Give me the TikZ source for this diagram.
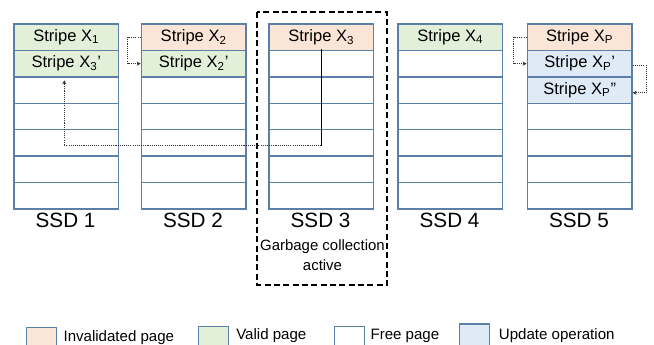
\documentclass[tikz,border=0pt]{standalone}
\usepackage{fontspec}
\setmainfont{Liberation Sans}
\usetikzlibrary{arrows.meta,calc}
\definecolor{cellborder}{HTML}{5B7FA6}
\definecolor{invalidfill}{HTML}{FBE5D6}
\definecolor{validfill}{HTML}{E2F0D9}
\definecolor{updatefill}{HTML}{DEEBF7}
\definecolor{linkgray}{HTML}{333333}
\begin{document}
\begin{tikzpicture}[x=0.75pt,y=-0.75pt,
  page/.style={draw=cellborder, line width=1.1pt, fill=white,
    minimum width=78.4pt, minimum height=19.82pt, inner sep=0pt,
    anchor=north west, font=\fontsize{12.4}{14}\selectfont},
  invalid/.style={page, fill=invalidfill},
  valid/.style={page, fill=validfill},
  update/.style={page, fill=updatefill},
  ssdlabel/.style={font=\fontsize{15.5}{18}\selectfont},
  legbox/.style={draw=cellborder, line width=1.1pt, anchor=north west,
    minimum width=22.5pt, minimum height=19pt, inner sep=0pt},
  legtext/.style={anchor=base west, inner sep=0pt, font=\fontsize{11.3}{13}\selectfont},
  dotlink/.style={draw=linkgray, line width=0.8pt,
    dash pattern=on 0.8pt off 0.8pt,
    -{Stealth[length=3pt,width=3pt]}},
  solidlink/.style={draw=black, line width=1pt}]
\useasboundingbox (0,0) rectangle (654,345);

% pages holding stripe data
\node[valid]   (c11) at (13.3,23.3)  {Stripe X\textsubscript{1}};
\node[valid]   (c12) at (13.3,49.73) {Stripe X\textsubscript{3}'};
\node[invalid] (c21) at (140.7,23.3)  {Stripe X\textsubscript{2}};
\node[valid]   (c22) at (140.7,49.73) {Stripe X\textsubscript{2}'};
\node[invalid] (c31) at (268.3,23.3)  {Stripe X\textsubscript{3}};
\node[valid]   (c41) at (397.3,23.3)  {Stripe X\textsubscript{4}};
\node[invalid] (c51) at (526.7,23.3)  {Stripe X\textsubscript{P}};
\node[update]  (c52) at (526.7,49.73) {Stripe X\textsubscript{P}'};
\node[update]  (c53) at (526.7,76.16) {Stripe X\textsubscript{P}''};

% free pages
\foreach \c/\x/\first in {1/13.3/3, 2/140.7/3, 3/268.3/2, 4/397.3/2, 5/526.7/4}{
  \foreach \r in {\first,...,7}{
    \node[page] (c\c\r) at (\x,{23.3+(\r-1)*26.43}) {};
  }
}

% drive labels
\foreach \c/\x in {1/13.3, 2/140.7, 3/268.3, 4/397.3, 5/526.7}{
  \node[ssdlabel] (ssd\c) at ({\x+52.25},220.5) {SSD \c};
}

% drive under garbage collection
\draw[black, line width=1.3pt, dash pattern=on 4.5pt off 2.5pt]
  (257.3,12.3) rectangle (387.3,285);
\node[align=center, font=\fontsize{11.2}{15}\selectfont] (gc) at (322.5,255)
  {Garbage collection\\active};

% page moves
\draw[dotlink] (c21.west) -- ++(-13,0) |- (c22.west);
\draw[dotlink] (c51.west) -- ++(-13,0) |- (c52.west);
\draw[dotlink] ([yshift=-1.5pt]c52.east) -- ++(14,0) |- ([yshift=-2pt]c53.east);
\draw[solidlink] ([yshift=1.5pt]c31.south) -- ($(c35.center)+(0,3)$) coordinate (turn);
\draw[dotlink] (turn) -| ([xshift=-1.5pt,yshift=-2pt]c12.south);

% legend
\node[legbox, fill=invalidfill] (lg1) at (26,327) {};
\node[legbox, fill=validfill]   (lg2) at (197.5,326) {};
\node[legbox, fill=white]       (lg3) at (334,326) {};
\node[legbox, fill=updatefill]  (lg4) at (458.5,323.5) {};
\node[legtext] (lt1) at (63.3,342) {Invalidated page};
\node[legtext] (lt2) at (236,340)  {Valid page};
\node[legtext] (lt3) at (370.3,339.5) {Free page};
\node[legtext] (lt4) at (498.7,339.5) {Update operation};
\end{tikzpicture}
\end{document}
